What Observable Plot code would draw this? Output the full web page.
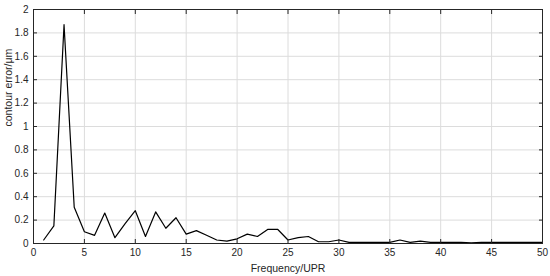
<!DOCTYPE html>
<html>
<head>
<meta charset="utf-8">
<script src="https://cdn.jsdelivr.net/npm/d3@7"></script>
<script src="https://cdn.jsdelivr.net/npm/@observablehq/plot@0.6"></script>
<style>
  html, body { margin: 0; padding: 0; background: #fff; }
</style>
</head>
<body>
<div id="chart"></div>
<script>
const frequency = [1,2,3,4,5,6,7,8,9,10,11,12,13,14,15,16,17,18,19,20,21,22,23,24,25,26,27,28,29,30,31,32,33,34,35,36,37,38,39,40,41,42,43,44,45,46,47,48,49,50];
const contourError = [0.03,0.15,1.87,0.31,0.10,0.07,0.26,0.05,0.17,0.28,0.06,0.27,0.13,0.22,0.08,0.11,0.07,0.03,0.02,0.04,0.08,0.06,0.12,0.12,0.03,0.05,0.06,0.015,0.015,0.03,0.01,0.01,0.01,0.01,0.01,0.03,0.01,0.02,0.01,0.01,0.01,0.01,0.005,0.01,0.01,0.01,0.01,0.01,0.01,0.01];
const xTicks = [0,5,10,15,20,25,30,35,40,45,50];
const yTicks = [0,0.2,0.4,0.6,0.8,1,1.2,1.4,1.6,1.8,2];

const data = frequency.map((f, i) => ({f, e: contourError[i]}));
const axisColor = "#262626";

const chart = Plot.plot({
  width: 550,
  height: 276,
  marginLeft: 33,
  marginRight: 8,
  marginTop: 9,
  marginBottom: 33,
  style: {fontFamily: "'Liberation Sans', Arial, sans-serif", fontSize: "10px", color: axisColor, background: "#fff"},
  x: {domain: [0, 50]},
  y: {domain: [0, 2]},
  marks: [
    Plot.gridX(xTicks, {stroke: "#dcdcdc", strokeOpacity: 1}),
    Plot.gridY(yTicks, {stroke: "#dcdcdc", strokeOpacity: 1}),
    Plot.lineY(data, {x: "f", y: "e", stroke: "#000", strokeWidth: 1.2}),
    Plot.frame({stroke: axisColor, strokeWidth: 1}),
    // labels
    Plot.axisX({ticks: xTicks, tickSize: 0, tickPadding: 5, label: null, fill: axisColor}),
    Plot.axisY({ticks: yTicks, tickSize: 0, tickPadding: 5, label: null, fill: axisColor, tickFormat: d => String(d)}),
    // inward tick marks
    Plot.axisX({ticks: xTicks, tickSize: 4, dy: -4, text: null, label: null, stroke: axisColor}),
    Plot.axisX({ticks: xTicks, anchor: "top", tickSize: 4, dy: 4, text: null, label: null, stroke: axisColor}),
    Plot.axisY({ticks: yTicks, tickSize: 4, dx: 4, text: null, label: null, stroke: axisColor}),
    Plot.axisY({ticks: yTicks, anchor: "right", tickSize: 4, dx: -4, text: null, label: null, stroke: axisColor}),
    // axis titles
    Plot.text(["Frequency/UPR"], {frameAnchor: "bottom", dy: 28, fill: axisColor, fontSize: 10.5}),
    Plot.text(["contour error/μm"], {frameAnchor: "left", dx: -25, rotate: -90, fill: axisColor, fontSize: 10.5})
  ]
});
document.getElementById("chart").appendChild(chart);
</script>
</body>
</html>
